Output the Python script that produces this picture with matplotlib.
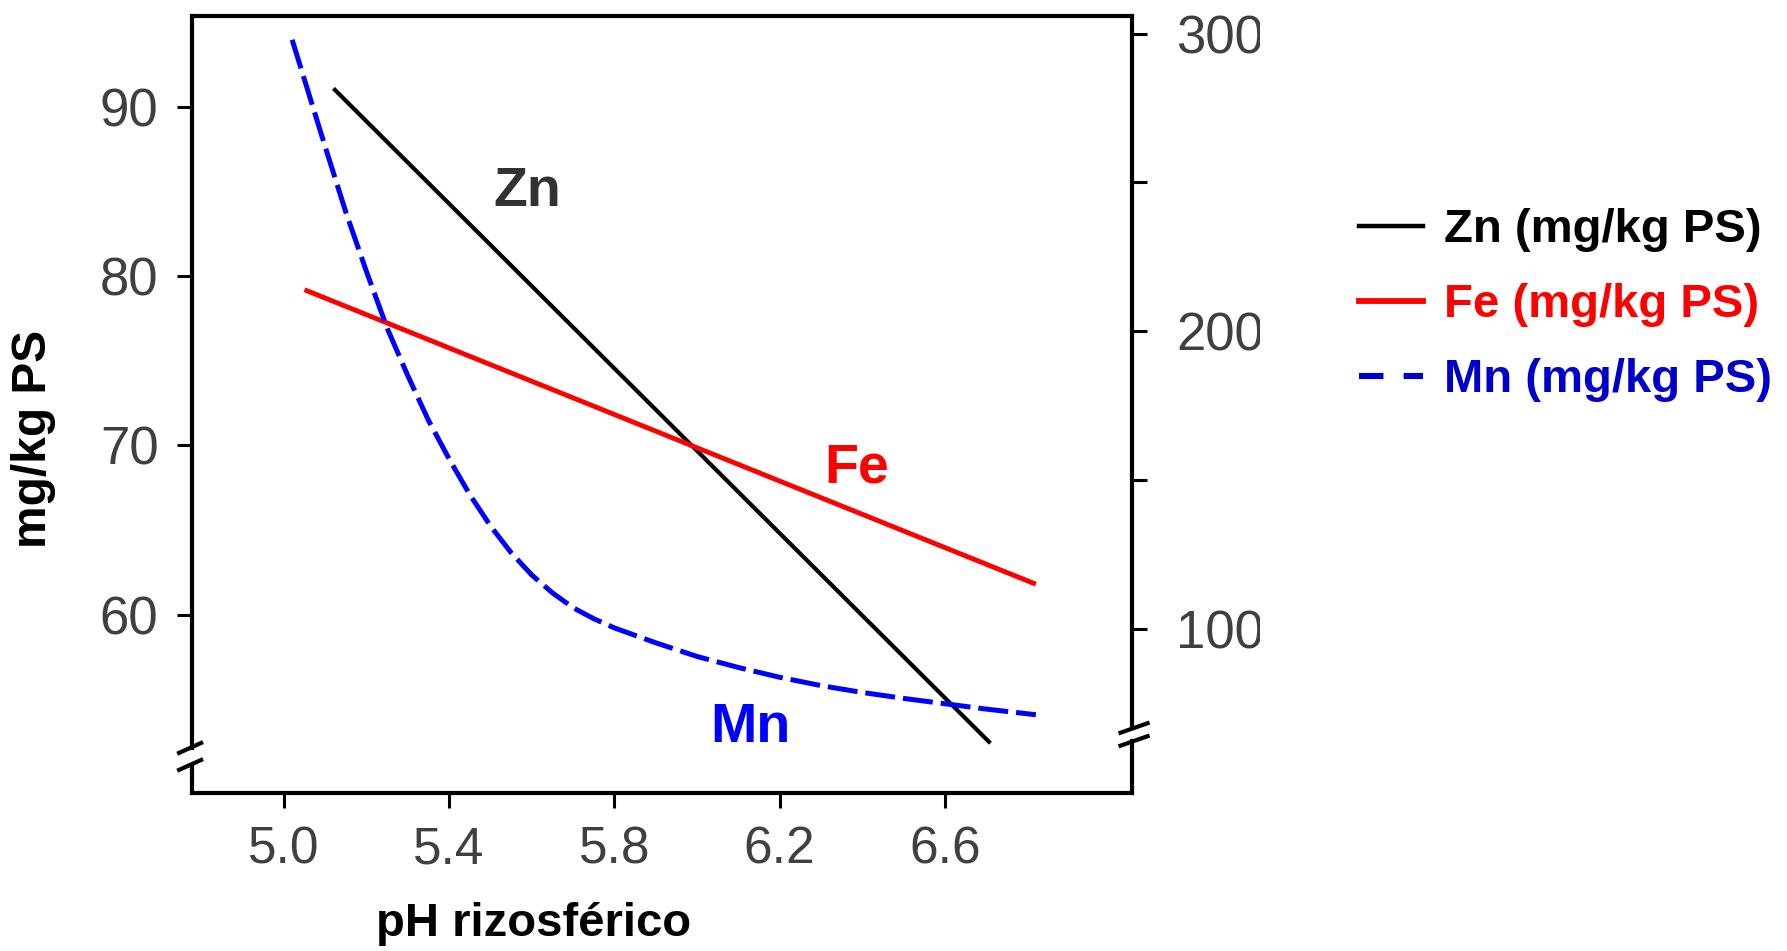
import matplotlib
matplotlib.use("Agg")
import matplotlib.pyplot as plt
from matplotlib.lines import Line2D
from matplotlib.transforms import Bbox, TransformedBbox

plt.rcParams['font.family'] = ['Liberation Sans', 'DejaVu Sans']

# values
zn_ph = [5.12, 6.71]
zn_val = [91.1, 52.4]

fe_ph = [5.05, 6.82]
fe_val = [79.2, 61.8]

mn_ph = [5.02, 5.06, 5.10, 5.15, 5.20, 5.25, 5.30, 5.35, 5.40, 5.45, 5.50,
         5.55, 5.60, 5.65, 5.70, 5.75, 5.80, 5.90, 6.00, 6.10, 6.20, 6.30,
         6.40, 6.50, 6.60, 6.70, 6.82]
mn_val = [298, 280, 262, 240, 220, 201, 185, 170, 157, 145, 134.5,
          125.5, 118, 112, 107, 103.3, 100.2, 95.2, 90.6, 86.9, 83.6, 80.8,
          78.5, 76.5, 74.7, 72.9, 71.0]

x_ticks = [5.0, 5.4, 5.8, 6.2, 6.6]
left_ticks = [60, 70, 80, 90]
right_ticks = [100, 150, 200, 250, 300]
right_labels = ["100", "", "200", "", "300"]

fig = plt.figure(figsize=(17.87, 9.51), dpi=100)
ax = fig.add_axes([0.1073, 0.1665, 0.526, 0.8167])
ax2 = ax.twinx()

ax.plot(zn_ph, zn_val, color="black", lw=3.0, solid_capstyle="butt")
ax.plot(fe_ph, fe_val, color="#ff0000", lw=3.5, solid_capstyle="butt")
ax2.plot(mn_ph, mn_val, color="#0000ff", lw=3.6, dashes=(6.0, 1.6))

ax.set_xlim(4.777, 7.052)
ax.set_ylim(49.48, 95.38)
ax2.set_ylim(44.8, 306.0)

ax.set_xticks(x_ticks)
ax.set_xticklabels([f"{v:.1f}" for v in x_ticks])
ax.set_yticks(left_ticks)
ax2.set_yticks(right_ticks)
ax2.set_yticklabels(right_labels)

tick_color = "#404040"
ax.tick_params(axis="x", direction="out", length=11, width=2.2, pad=13,
               labelsize=37, labelcolor=tick_color)
ax.tick_params(axis="y", direction="out", length=11, width=2.2, pad=13,
               labelsize=38, labelcolor=tick_color)
ax2.tick_params(axis="y", direction="out", length=10.5, width=2.2, pad=21.5,
                labelsize=38, labelcolor=tick_color)

for s in ["left", "right"]:
    ax.spines[s].set_visible(False)
for s in ["left", "right", "top", "bottom"]:
    ax2.spines[s].set_visible(False)
for s in ["top", "bottom"]:
    ax.spines[s].set_linewidth(3.0)

# broken spines, drawn by hand
lk = dict(transform=ax.transAxes, color="black", lw=3.0, clip_on=False,
          solid_capstyle="projecting")
ax.plot([0, 0], [0, 0.0357], **lk)
ax.plot([0, 0], [0.0576, 1], **lk)
ax.plot([1, 1], [0, 0.0666], **lk)
ax.plot([1, 1], [0.0833, 1], **lk)
sk = dict(transform=ax.transAxes, color="black", lw=3.0, clip_on=False,
          solid_capstyle="butt")
for yc in [0.0357, 0.0576]:
    ax.plot([-0.0155, 0.012], [yc - 0.0075, yc + 0.0075], **sk)
for yc in [0.0666, 0.0833]:
    ax.plot([0.986, 1.019], [yc - 0.007, yc + 0.007], **sk)

ax.set_xlabel("pH rizosférico", fontsize=34, fontweight="bold")
ax.xaxis.set_label_coords(0.364, -0.141)
ax.set_ylabel("mg/kg PS", fontsize=34.5, fontweight="bold")
ax.yaxis.set_label_coords(-0.144, 0.455)

ax.text(5.59, 85.0, "Zn", fontsize=40, fontweight="bold", color="#333333",
        ha="center", va="center")
ax.text(6.387, 68.64, "Fe", fontsize=40, fontweight="bold", color="#ff0000",
        ha="center", va="center")
ax.text(6.128, 53.28, "Mn", fontsize=40, fontweight="bold", color="#0000ff",
        ha="center", va="center")

handles = [Line2D([], [], color="black", lw=3.2),
           Line2D([], [], color="#ff0000", lw=4.2),
           Line2D([], [], color="#0000cc", lw=4.4, dashes=(4.0, 3.3))]
labels = ["Zn (mg/kg PS)", "Fe (mg/kg PS)", "Mn (mg/kg PS)"]
fig.legend(handles, labels, loc="upper left", bbox_to_anchor=(0.7474, 0.806),
           frameon=False, borderpad=0, handlelength=1.35, handletextpad=0.45,
           labelspacing=0.66, labelcolor=["black", "#ff0000", "#0000cc"],
           prop=dict(size=34, weight="bold"))

# right tick labels are cut off in the original
fig.canvas.draw()
clip = TransformedBbox(Bbox.from_extents(0, 0, 1260 / 1787, 1), fig.transFigure)
for t in ax2.yaxis.get_major_ticks():
    t.label2.set_clip_box(clip)
    t.label2.set_clip_on(True)

fig.savefig("out.png", dpi=100)
